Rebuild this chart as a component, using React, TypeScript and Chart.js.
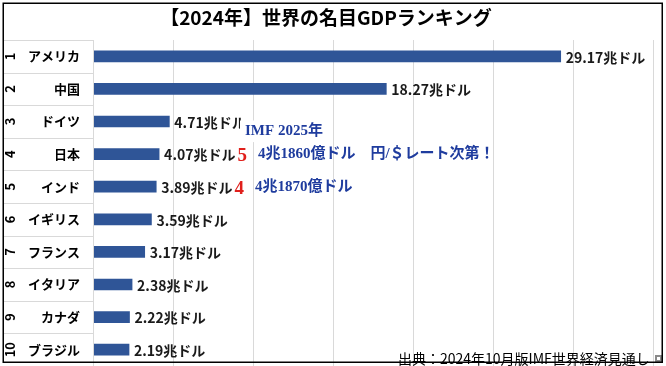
import React, { useEffect, useRef } from 'react';
import { Chart, registerables } from 'chart.js';

Chart.register(...registerables);

const chartTitle = '【2024年】世界の名目GDPランキング';
const ranks = ['1', '2', '3', '4', '5', '6', '7', '8', '9', '10'];
const countries = ['アメリカ', '中国', 'ドイツ', '日本', 'インド', 'イギリス', 'フランス', 'イタリア', 'カナダ', 'ブラジル'];
const gdpTrillionUsd = [29.17, 18.27, 4.71, 4.07, 3.89, 3.59, 3.17, 2.38, 2.22, 2.19];
const valueUnit = '兆ドル';
const xMin = 0;
const xMax = 35;
const xStep = 5;
const imfNoteTitle = 'IMF 2025年';
const forecastCountries = ['日本', 'インド'];
const forecastRanks = ['5', '4'];
const forecastTexts = ['4兆1860億ドル　円/＄レート次第！', '4兆1870億ドル'];
const sourceText = '出典：2024年10月版IMF世界経済見通し';

const SANS = "'Noto Sans CJK JP', 'Noto Sans', sans-serif";
const SERIF = "'Liberation Serif', 'DejaVu Serif', 'Noto Sans CJK JP', serif";
const BAR_COLOR = '#2f5597';
const GRID_COLOR = '#d9d9d9';
const NOTE_BLUE = '#1f3c9e';
const NOTE_RED = '#e0201c';

const decorPlugin = {
  id: 'decor',
  beforeDraw(chart: any) {
    const ctx = chart.ctx;
    ctx.save();
    ctx.fillStyle = '#ffffff';
    ctx.fillRect(0, 0, chart.width, chart.height);
    ctx.restore();
  },
  beforeDatasetsDraw(chart: any) {
    const ctx = chart.ctx;
    const xs = chart.scales.x;
    const ys = chart.scales.y;
    const area = chart.chartArea;
    ctx.save();
    ctx.strokeStyle = GRID_COLOR;
    ctx.lineWidth = 1;
    // row separators in the label column
    for (let i = 0; i <= countries.length; i++) {
      const py = Math.round(ys.getPixelForValue(i - 0.5)) + 0.5;
      ctx.beginPath();
      ctx.moveTo(3, py);
      ctx.lineTo(area.left, py);
      ctx.stroke();
    }
    // vertical value gridlines
    for (let v = xMin; v <= xMax; v += xStep) {
      const px = Math.round(xs.getPixelForValue(v)) - 0.5;
      ctx.beginPath();
      ctx.moveTo(px, area.top);
      ctx.lineTo(px, area.bottom);
      ctx.stroke();
    }
    ctx.restore();
  },
  afterDatasetsDraw(chart: any) {
    const ctx = chart.ctx;
    const xs = chart.scales.x;
    const ys = chart.scales.y;
    ctx.save();

    // rank numbers (rotated)
    ctx.fillStyle = '#000';
    ctx.font = `bold 13px ${SANS}`;
    ctx.textAlign = 'center';
    ctx.textBaseline = 'middle';
    ranks.forEach((r, i) => {
      const py = ys.getPixelForValue(i);
      ctx.save();
      ctx.translate(10, py);
      ctx.rotate(-Math.PI / 2);
      ctx.fillText(r, 0, 0);
      ctx.restore();
    });

    // value labels
    const valueFont = `bold 14px ${SANS}`;
    ctx.font = valueFont;
    ctx.textAlign = 'left';
    ctx.fillStyle = '#1a1a1a';
    gdpTrillionUsd.forEach((v, i) => {
      const px = xs.getPixelForValue(v) + 5;
      const py = ys.getPixelForValue(i) + 1;
      ctx.fillText(v.toFixed(2) + valueUnit, px, py);
    });

    // IMF note box (white text box overlapping the Germany label)
    const germanyY = ys.getPixelForValue(2);
    const japanY = ys.getPixelForValue(3);
    const boxTop = germanyY - 1;
    ctx.fillStyle = '#ffffff';
    ctx.fillRect(240, boxTop, 90, japanY - boxTop - 12);
    ctx.fillStyle = NOTE_BLUE;
    ctx.font = `bold 15px ${SERIF}`;
    ctx.fillText(imfNoteTitle, 245, (germanyY + japanY) / 2 - 7);

    forecastCountries.forEach((c, k) => {
      const i = countries.indexOf(c);
      const v = gdpTrillionUsd[i];
      const py = ys.getPixelForValue(i);
      ctx.font = valueFont;
      const lx = xs.getPixelForValue(v) + 5;
      const lw = ctx.measureText(v.toFixed(2) + valueUnit).width;
      const rx = lx + lw + 2;
      ctx.font = `bold 19px ${SERIF}`;
      ctx.fillStyle = NOTE_RED;
      ctx.fillText(forecastRanks[k], rx, py + 2);
      const rw = ctx.measureText(forecastRanks[k]).width;
      ctx.font = `bold 15px ${SERIF}`;
      ctx.fillStyle = NOTE_BLUE;
      ctx.fillText(forecastTexts[k], rx + rw + 11, py);
    });

    // title
    ctx.fillStyle = '#000';
    ctx.font = `bold 19px ${SANS}`;
    ctx.textAlign = 'center';
    ctx.fillText(chartTitle, 326, 18);

    // source
    ctx.font = `14px ${SANS}`;
    ctx.textAlign = 'left';
    ctx.fillStyle = '#000';
    ctx.fillText(sourceText, 398, 359);

    // small icon
    ctx.fillStyle = '#8a8a8a';
    ctx.fillRect(655, 355, 7, 7);
    ctx.fillStyle = '#ffffff';
    ctx.fillRect(657, 357, 3, 3);

    // frame
    ctx.strokeStyle = '#000';
    ctx.lineWidth = 1.5;
    ctx.strokeRect(3.25, 3.25, 659, 359);
    ctx.restore();
  },
};

export default function App() {
  const canvasRef = useRef<HTMLCanvasElement | null>(null);

  useEffect(() => {
    const canvas = canvasRef.current;
    if (!canvas) return;
    const chart = new Chart(canvas, {
      type: 'bar',
      data: {
        labels: countries,
        datasets: [
          {
            data: gdpTrillionUsd,
            backgroundColor: BAR_COLOR,
            borderWidth: 0,
            barThickness: 11,
          },
        ],
      },
      options: {
        indexAxis: 'y',
        responsive: false,
        animation: false,
        devicePixelRatio: 1,
        layout: { padding: { top: 40, right: 12, left: 0, bottom: 0 } },
        plugins: {
          legend: { display: false },
          tooltip: { enabled: false },
          title: { display: false },
        },
        scales: {
          x: {
            type: 'linear',
            display: false,
            min: xMin,
            max: xMax,
          },
          y: {
            type: 'category',
            position: 'left',
            grid: { display: false, drawTicks: false },
            border: { display: false },
            ticks: {
              color: '#000',
              padding: 14,
              font: { family: SANS, size: 13, weight: 'bold' },
            },
            afterFit: (s: any) => {
              s.width = 94;
              s.paddingTop = 0;
              s.paddingBottom = 0;
            },
          },
        },
      },
      plugins: [decorPlugin],
    } as any);
    return () => chart.destroy();
  }, []);

  return (
    <div style={{ position: 'absolute', left: 0, top: 0, width: 666, height: 366, background: '#fff' }}>
      <canvas ref={canvasRef} width={666} height={366} style={{ display: 'block', width: 666, height: 366 }} />
    </div>
  );
}
